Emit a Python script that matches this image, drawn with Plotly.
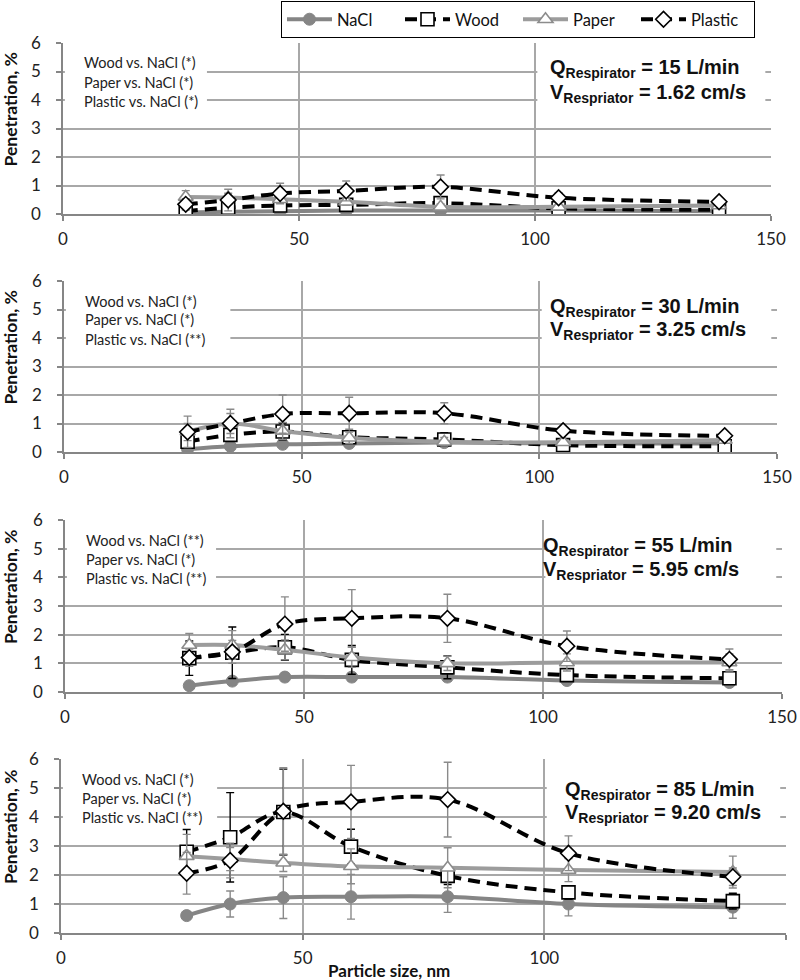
import plotly.graph_objects as go

W, H = 800, 980

# ---------------- data ----------------
particle_size = [26, 35, 46, 60, 80, 105, 139]
series_names = ["NaCl", "Wood", "Paper", "Plastic"]

flow_labels = ["15 L/min", "30 L/min", "55 L/min", "85 L/min"]
velocity_labels = ["1.62 cm/s", "3.25 cm/s", "5.95 cm/s", "9.20 cm/s"]
significance = [
    ["Wood vs. NaCl (*)", "Paper vs. NaCl (*)", "Plastic vs. NaCl (*)"],
    ["Wood vs. NaCl (*)", "Paper vs. NaCl (*)", "Plastic vs. NaCl (**)"],
    ["Wood vs. NaCl (**)", "Paper vs. NaCl (*)", "Plastic vs. NaCl (**)"],
    ["Wood vs. NaCl (*)", "Paper vs. NaCl (*)", "Plastic vs. NaCl (**)"],
]

# penetration (%) per panel: 15, 30, 55, 85 L/min
nacl_15 = [0.05, 0.08, 0.10, 0.12, 0.12, 0.12, 0.10]
wood_15 = [0.10, 0.22, 0.30, 0.32, 0.38, 0.20, 0.15]
paper_15 = [0.60, 0.58, 0.52, 0.43, 0.25, 0.25, 0.30]
plastic_15 = [0.34, 0.49, 0.72, 0.81, 0.95, 0.57, 0.43]
nacl_15_err = [0.03, 0.03, 0.04, 0.04, 0.04, 0.04, 0.03]
wood_15_err = [0.08, 0.08, 0.08, 0.08, 0.10, 0.08, 0.06]
paper_15_err = [0.22, 0.15, 0.12, 0.12, 0.10, 0.08, 0.08]
plastic_15_err = [0.20, 0.38, 0.36, 0.35, 0.42, 0.18, 0.06]

nacl_30 = [0.10, 0.20, 0.27, 0.30, 0.33, 0.30, 0.30]
wood_30 = [0.36, 0.60, 0.72, 0.52, 0.44, 0.24, 0.20]
paper_30 = [0.71, 1.00, 0.74, 0.50, 0.36, 0.34, 0.42]
plastic_30 = [0.70, 1.00, 1.33, 1.36, 1.36, 0.75, 0.57]
nacl_30_err = [0.05, 0.05, 0.05, 0.05, 0.05, 0.05, 0.05]
wood_30_err = [0.15, 0.20, 0.30, 0.20, 0.24, 0.10, 0.10]
paper_30_err = [0.55, 0.50, 0.30, 0.20, 0.15, 0.10, 0.10]
plastic_30_err = [0.30, 0.35, 0.67, 0.56, 0.37, 0.10, 0.10]

nacl_55 = [0.22, 0.38, 0.52, 0.52, 0.52, 0.40, 0.33]
wood_55 = [1.18, 1.37, 1.56, 1.12, 0.86, 0.59, 0.48]
paper_55 = [1.64, 1.64, 1.47, 1.21, 1.00, 1.03, 1.03]
plastic_55 = [1.20, 1.40, 2.37, 2.57, 2.57, 1.60, 1.14]
nacl_55_err = [0.05, 0.10, 0.15, 0.15, 0.15, 0.10, 0.08]
wood_55_err = [0.60, 0.90, 0.45, 0.50, 0.40, 0.15, 0.15]
paper_55_err = [0.40, 0.50, 0.35, 0.35, 0.25, 0.30, 0.30]
plastic_55_err = [0.30, 0.40, 0.95, 1.00, 0.84, 0.53, 0.36]

nacl_85 = [0.60, 1.00, 1.22, 1.25, 1.25, 1.00, 0.89]
wood_85 = [2.80, 3.30, 4.17, 2.98, 1.97, 1.40, 1.10]
paper_85 = [2.65, 2.55, 2.42, 2.30, 2.25, 2.17, 2.10]
plastic_85 = [2.06, 2.50, 4.20, 4.52, 4.60, 2.75, 1.94]
nacl_85_err = [0.12, 0.45, 0.72, 0.77, 0.54, 0.41, 0.38]
wood_85_err = [0.77, 1.54, 1.48, 0.60, 0.30, 0.23, 0.27]
paper_85_err = [0.75, 0.40, 0.30, 0.60, 0.69, 0.40, 0.55]
plastic_85_err = [0.72, 0.60, 1.50, 1.26, 1.29, 0.60, 0.30]

values = [
    [nacl_15, wood_15, paper_15, plastic_15],
    [nacl_30, wood_30, paper_30, plastic_30],
    [nacl_55, wood_55, paper_55, plastic_55],
    [nacl_85, wood_85, paper_85, plastic_85],
]
errors = [
    [nacl_15_err, wood_15_err, paper_15_err, plastic_15_err],
    [nacl_30_err, wood_30_err, paper_30_err, plastic_30_err],
    [nacl_55_err, wood_55_err, paper_55_err, plastic_55_err],
    [nacl_85_err, wood_85_err, paper_85_err, plastic_85_err],
]

x_ticks = [0, 50, 100, 150]
y_ticks = [0, 1, 2, 3, 4, 5, 6]

# ---------------- layout geometry (pixels) ----------------
x_px = [(63, 771), (64, 777), (65, 782), (61, 786)]
y_px = [(43, 214), (281, 452), (520, 692), (759, 933)]
left_box_end = [30.5, 35.0, 31.6, 32.3]
q_pos = [(548, 69, 93), (548, 307, 331), (541, 546, 570), (563, 790, 813)]


def fx(px):
    return px / W


def fy(py):
    return 1 - py / H


styles = {
    "NaCl": dict(line=dict(color="#858585", width=4),
                 marker=dict(symbol="circle", size=12, color="#858585",
                             line=dict(color="#858585", width=1)),
                 err="#8a8a8a"),
    "Wood": dict(line=dict(color="#000000", width=4, dash="12px,7px"),
                 marker=dict(symbol="square", size=13, color="#ffffff",
                             line=dict(color="#000000", width=1.6)),
                 err="#000000"),
    "Paper": dict(line=dict(color="#9c9c9c", width=4),
                  marker=dict(symbol="triangle-up", size=13, color="#ffffff",
                              line=dict(color="#8c8c8c", width=1.6)),
                  err="#8a8a8a"),
    "Plastic": dict(line=dict(color="#000000", width=4, dash="12px,7px"),
                    marker=dict(symbol="diamond", size=12, color="#ffffff",
                                line=dict(color="#000000", width=1.6)),
                    err="#8a8a8a"),
}

fig = go.Figure()
shapes = []
annotations = []

for p in range(4):
    ax = "" if p == 0 else str(p + 1)
    for s, name in enumerate(series_names):
        st = styles[name]
        fig.add_trace(go.Scatter(
            x=particle_size, y=values[p][s],
            mode="lines+markers", name=name,
            line=dict(shape="spline", smoothing=1, **st["line"]),
            marker=st["marker"],
            error_y=dict(type="data", array=errors[p][s], visible=True,
                         color=st["err"], thickness=1.4, width=4),
            showlegend=(p == 0),
            xaxis="x" + ax, yaxis="y" + ax,
        ))
    x0, x1 = x_px[p]
    y0, y1 = y_px[p]
    common = dict(showline=True, linecolor="#868686", linewidth=1.5,
                  showgrid=True, gridcolor="#a8a8a8", gridwidth=1.5,
                  zeroline=False, ticks="outside", ticklen=5,
                  tickcolor="#868686", tickwidth=1.5,
                  tickfont=dict(family="Lato", size=17, color="#222222"))
    fig.update_layout(**{
        "xaxis" + ax: dict(domain=[fx(x0), fx(x1)], range=[0, 150],
                           tickvals=x_ticks, anchor="y" + ax,
                           ticklabelstandoff=4, **common),
        "yaxis" + ax: dict(domain=[fy(y1), fy(y0)], range=[0, 6],
                           tickvals=y_ticks, anchor="x" + ax,
                           ticklabelstandoff=12, **common),
    })
    # white boxes behind the text blocks (hide gridlines)
    shapes.append(dict(type="rect", xref="x" + ax, yref="y" + ax,
                       x0=0.4, x1=left_box_end[p], y0=3.45, y1=5.75,
                       fillcolor="white", line=dict(width=0), layer="between"))
    shapes.append(dict(type="rect", xref="x" + ax, yref="y" + ax,
                       x0=100.5, x1=148.8, y0=3.45, y1=5.8,
                       fillcolor="white", line=dict(width=0), layer="between"))
    # significance text
    for i, t in enumerate(significance[p]):
        annotations.append(dict(
            text=t, xref="paper", yref="paper",
            x=fx(x0 + 19), y=fy(y0 + 20 + 19 * i),
            xanchor="left", yanchor="middle", showarrow=False,
            font=dict(family="Lato", size=14.5, color="#222222")))
    qx, qy, vy = q_pos[p]
    annotations.append(dict(
        text="Q<sub>Respirator</sub> = " + flow_labels[p],
        xref="paper", yref="paper", x=fx(qx), y=fy(qy),
        xanchor="left", yanchor="middle", showarrow=False,
        font=dict(family="Liberation Sans", size=20, color="#111111", weight="bold")))
    annotations.append(dict(
        text="V<sub>Respriator</sub> = " + velocity_labels[p],
        xref="paper", yref="paper", x=fx(qx), y=fy(vy),
        xanchor="left", yanchor="middle", showarrow=False,
        font=dict(family="Liberation Sans", size=20, color="#111111", weight="bold")))
    # y-axis title
    annotations.append(dict(
        text="<b>Penetration, %</b>", xref="paper", yref="paper",
        x=fx(10), y=fy((y0 + y1) / 2 - 19), textangle=-90,
        xanchor="center", yanchor="middle", showarrow=False,
        font=dict(family="Lato", size=17.5, color="#111111")))

annotations.append(dict(
    text="<b>Particle size, nm</b>", xref="paper", yref="paper",
    x=fx(389), y=fy(970), xanchor="center", yanchor="middle", showarrow=False,
    font=dict(family="Lato", size=17, color="#111111")))

fig.update_layout(
    width=W, height=H,
    margin=dict(l=0, r=0, t=0, b=0, autoexpand=False),
    paper_bgcolor="white", plot_bgcolor="white",
    shapes=shapes, annotations=annotations,
    legend=dict(orientation="h", x=fx(518), y=fy(1), xanchor="center",
                yanchor="top", bordercolor="#000000", borderwidth=1,
                bgcolor="white", font=dict(family="Lato", size=16.5, color="#111111"),
                itemwidth=45, entrywidth=58, tracegroupgap=0),
)

fig.write_html("out.html", config={"displayModeBar": False},
               post_script="document.body.style.margin='0px';")
